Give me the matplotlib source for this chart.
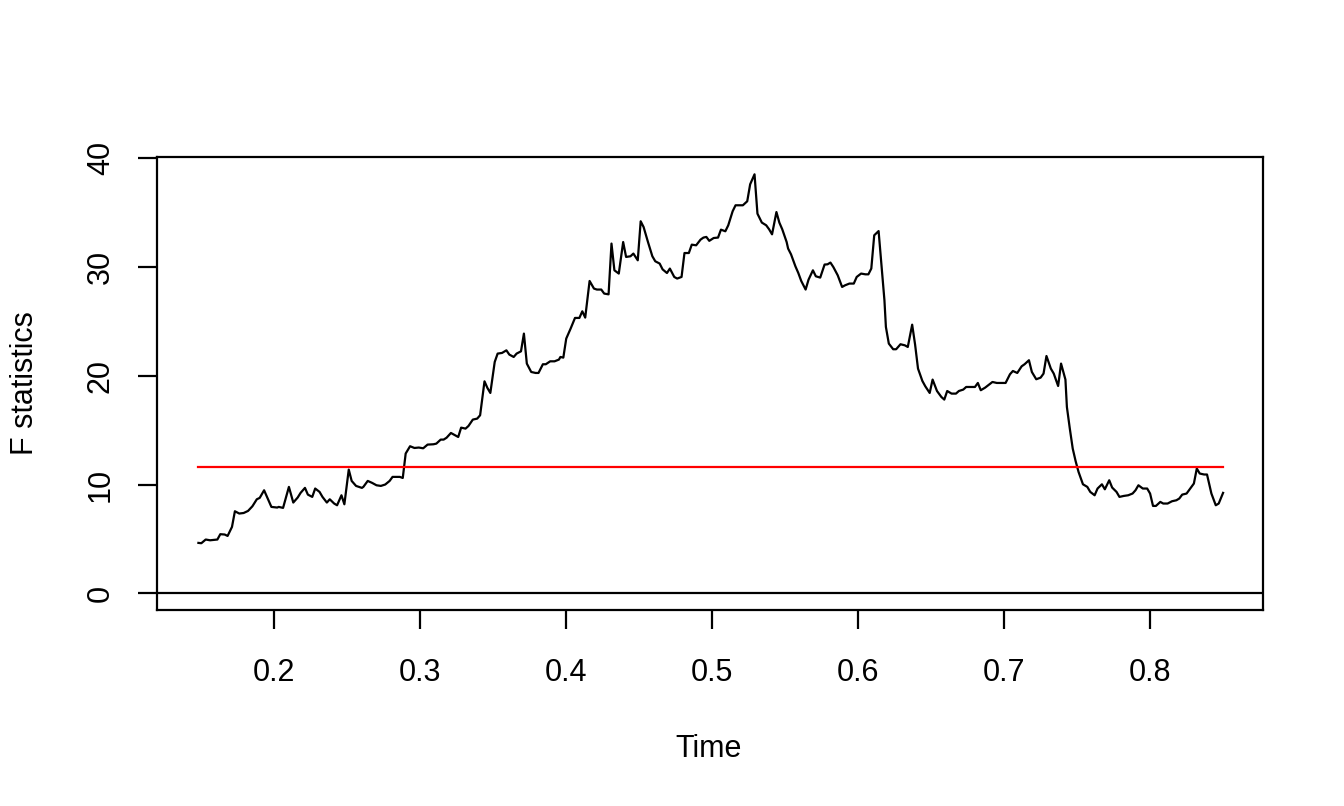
import numpy as np
import matplotlib
matplotlib.use('Agg')
import matplotlib.pyplot as plt

plt.rcParams['font.family'] = ['Liberation Sans', 'DejaVu Sans']

# F statistics path (time, F value)
time = [0.148, 0.150, 0.153, 0.156, 0.161, 0.163, 0.166, 0.168, 0.171, 0.173,
        0.176, 0.179, 0.182, 0.185, 0.188, 0.190, 0.193, 0.195, 0.198, 0.202,
        0.203, 0.206, 0.208, 0.210, 0.213, 0.216, 0.218, 0.221, 0.223, 0.226,
        0.228, 0.231, 0.233, 0.236, 0.238, 0.241, 0.243, 0.246, 0.248, 0.251,
        0.253, 0.256, 0.260, 0.261, 0.264, 0.267, 0.270, 0.273, 0.276, 0.279,
        0.281, 0.284, 0.286, 0.288, 0.290, 0.293, 0.296, 0.299, 0.302, 0.305,
        0.309, 0.311, 0.314, 0.316, 0.318, 0.321, 0.323, 0.326, 0.328, 0.331,
        0.333, 0.336, 0.339, 0.341, 0.344, 0.346, 0.348, 0.351, 0.353, 0.356,
        0.359, 0.361, 0.364, 0.366, 0.369, 0.371, 0.373, 0.376, 0.379, 0.381,
        0.384, 0.386, 0.389, 0.392, 0.395, 0.396, 0.398, 0.400, 0.403, 0.405,
        0.406, 0.409, 0.411, 0.413, 0.416, 0.419, 0.421, 0.424, 0.426, 0.429,
        0.431, 0.433, 0.436, 0.439, 0.441, 0.444, 0.446, 0.449, 0.451, 0.453,
        0.456, 0.459, 0.461, 0.464, 0.466, 0.469, 0.471, 0.474, 0.476, 0.479,
        0.481, 0.484, 0.486, 0.489, 0.492, 0.494, 0.496, 0.498, 0.501, 0.504,
        0.506, 0.509, 0.511, 0.514, 0.516, 0.519, 0.521, 0.524, 0.526, 0.529,
        0.531, 0.534, 0.537, 0.539, 0.541, 0.544, 0.546, 0.548, 0.551, 0.552,
        0.554, 0.557, 0.559, 0.561, 0.564, 0.566, 0.569, 0.571, 0.574, 0.577,
        0.579, 0.581, 0.583, 0.586, 0.589, 0.591, 0.594, 0.597, 0.599, 0.602,
        0.605, 0.607, 0.609, 0.611, 0.614, 0.618, 0.619, 0.621, 0.624, 0.626,
        0.629, 0.632, 0.634, 0.637, 0.639, 0.641, 0.644, 0.646, 0.649, 0.651,
        0.654, 0.657, 0.659, 0.661, 0.664, 0.667, 0.669, 0.672, 0.674, 0.677,
        0.680, 0.682, 0.684, 0.687, 0.690, 0.692, 0.695, 0.698, 0.701, 0.704,
        0.706, 0.709, 0.712, 0.714, 0.717, 0.719, 0.722, 0.725, 0.727, 0.729,
        0.732, 0.734, 0.737, 0.739, 0.742, 0.743, 0.745, 0.747, 0.749, 0.751,
        0.754, 0.757, 0.759, 0.762, 0.764, 0.767, 0.769, 0.772, 0.774, 0.777,
        0.779, 0.782, 0.785, 0.788, 0.790, 0.792, 0.795, 0.798, 0.800, 0.802,
        0.804, 0.807, 0.809, 0.812, 0.815, 0.818, 0.820, 0.822, 0.825, 0.827,
        0.830, 0.832, 0.834, 0.837, 0.839, 0.842, 0.845, 0.847, 0.850]

fstat = [4.63, 4.60, 4.94, 4.87, 4.94, 5.43, 5.40, 5.27, 6.10, 7.54,
         7.33, 7.38, 7.57, 8.00, 8.64, 8.77, 9.47, 8.86, 7.94, 7.88,
         7.94, 7.85, 8.80, 9.78, 8.34, 8.80, 9.23, 9.69, 9.07, 8.86,
         9.63, 9.32, 8.86, 8.34, 8.64, 8.25, 8.09, 9.01, 8.18, 11.37,
         10.33, 9.87, 9.69, 9.78, 10.33, 10.15, 9.93, 9.87, 10.00, 10.33,
         10.70, 10.70, 10.70, 10.60, 12.85, 13.52, 13.36, 13.40, 13.33, 13.67,
         13.70, 13.76, 14.13, 14.13, 14.30, 14.74, 14.59, 14.37, 15.23, 15.14,
         15.38, 15.97, 16.06, 16.37, 19.49, 18.88, 18.42, 21.27, 22.04, 22.10,
         22.34, 21.95, 21.73, 22.04, 22.25, 23.88, 21.12, 20.35, 20.26, 20.26,
         21.06, 21.06, 21.33, 21.33, 21.49, 21.73, 21.67, 23.42, 24.34, 25.01,
         25.32, 25.32, 25.93, 25.35, 28.72, 28.02, 27.93, 27.93, 27.56, 27.49,
         32.16, 29.70, 29.40, 32.30, 30.93, 30.99, 31.24, 30.62, 34.21, 33.68,
         32.30, 30.99, 30.53, 30.32, 29.79, 29.45, 29.86, 29.09, 28.94, 29.09,
         31.29, 31.29, 32.06, 32.00, 32.52, 32.71, 32.77, 32.41, 32.67, 32.71,
         33.44, 33.29, 33.84, 35.13, 35.68, 35.68, 35.68, 36.05, 37.61, 38.53,
         34.91, 34.09, 33.84, 33.47, 33.01, 35.06, 34.09, 33.47, 32.30, 31.70,
         31.17, 30.07, 29.45, 28.72, 27.93, 28.84, 29.70, 29.15, 29.03, 30.23,
         30.25, 30.41, 30.00, 29.24, 28.17, 28.32, 28.48, 28.48, 29.09, 29.40,
         29.33, 29.33, 29.86, 32.92, 33.31, 26.94, 24.49, 22.96, 22.44, 22.44,
         22.90, 22.80, 22.65, 24.70, 22.87, 20.66, 19.52, 19.03, 18.42, 19.65,
         18.60, 18.05, 17.81, 18.60, 18.36, 18.36, 18.60, 18.73, 18.97, 18.97,
         18.97, 19.34, 18.67, 18.91, 19.22, 19.43, 19.34, 19.34, 19.34, 20.14,
         20.44, 20.26, 20.87, 21.06, 21.43, 20.35, 19.68, 19.83, 20.20, 21.82,
         20.66, 20.20, 19.06, 21.12, 19.65, 17.13, 15.14, 13.30, 12.14, 11.15,
         10.02, 9.78, 9.32, 9.01, 9.63, 10.02, 9.56, 10.39, 9.72, 9.32,
         8.86, 8.95, 9.01, 9.17, 9.47, 9.93, 9.63, 9.63, 9.17, 8.03,
         8.03, 8.40, 8.25, 8.25, 8.46, 8.55, 8.71, 9.07, 9.17, 9.54,
         10.09, 11.47, 11.01, 10.92, 10.92, 9.17, 8.09, 8.25, 9.23]

boundary = 11.59
xticks = [0.2, 0.3, 0.4, 0.5, 0.6, 0.7, 0.8]
yticks = [0, 10, 20, 30, 40]

fig = plt.figure(figsize=(13.44, 8.06), dpi=100)
ax = fig.add_axes([0.117, 0.2432, 0.823, 0.5624])

lw = 1.6
ax.plot(time, fstat, color='black', lw=lw)
ax.plot([time[0], time[-1]], [boundary, boundary], color='#ff0000', lw=lw)
ax.axhline(0, color='black', lw=lw)

ax.set_xlim(0.1198, 0.8776)
ax.set_ylim(-1.54, 40.15)
ax.set_xticks(xticks)
ax.set_xticklabels([f'{v:g}' for v in xticks])
ax.set_yticks(yticks)
ax.set_yticklabels([str(v) for v in yticks], rotation=90, va='center')

for s in ax.spines.values():
    s.set_linewidth(lw)
ax.tick_params(axis='both', length=13.7, width=lw, labelsize=22)
ax.tick_params(axis='x', pad=21)
ax.tick_params(axis='y', pad=16)

fig.text(33.3 / 1344, 1 - 383 / 806, 'F statistics', rotation=90,
         rotation_mode='anchor', ha='center', va='baseline', fontsize=22)
fig.text(709 / 1344, 1 - 756.7 / 806, 'Time', ha='center', va='baseline',
         fontsize=22)

fig.savefig('out.png', dpi=100, facecolor='white')
